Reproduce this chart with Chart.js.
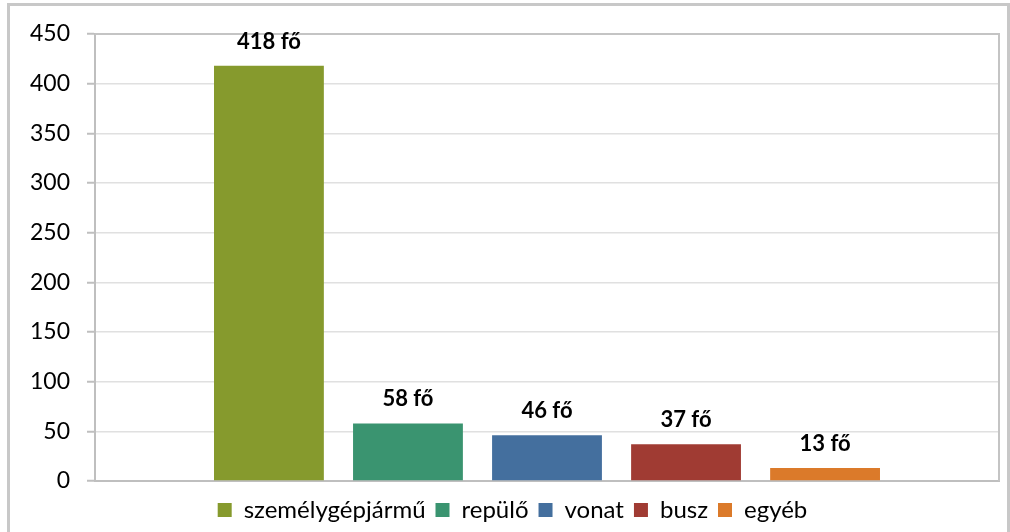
<!DOCTYPE html>
<html>
<head>
<meta charset="utf-8">
<script src="https://cdn.jsdelivr.net/npm/chart.js@4.4.1/dist/chart.umd.min.js"></script>
<style>
  html, body { margin: 0; padding: 0; background: #fff; }
  #wrap { position: relative; width: 1010px; height: 532px; overflow: hidden; }
  #frame { position: absolute; left: 7px; top: 3px; width: 997px; height: 560px;
           border: 3px solid #c8c8c8; pointer-events: none; }
  canvas { position: absolute; left: 0; top: 0; }
</style>
</head>
<body>
<div id="wrap">
  <canvas id="chart" width="1010" height="532"></canvas>
  <div id="frame"></div>
</div>
<script>
const categories = [''];
const seriesNames = ['személygépjármű', 'repülő', 'vonat', 'busz', 'egyéb'];
const seriesValues = [418, 58, 46, 37, 13];
const seriesColors = ['#869A2D', '#3A9470', '#446F9E', '#A03B33', '#DB7A2A'];
const yTicks = [0, 50, 100, 150, 200, 250, 300, 350, 400, 450];

const FONT = 'Lato, "Open Sans", sans-serif';

const valueLabels = {
    id: 'valueLabels',
    afterDatasetsDraw(chart) {
        const ctx = chart.ctx;
        ctx.save();
        ctx.font = 'bold 22px ' + FONT;
        ctx.fillStyle = '#000';
        ctx.textAlign = 'center';
        ctx.textBaseline = 'alphabetic';
        chart.data.datasets.forEach((ds, i) => {
            const bar = chart.getDatasetMeta(i).data[0];
            ctx.fillText(ds.data[0] + ' fő', bar.x, bar.y - 17);
        });
        ctx.restore();
    }
};

const plotBorder = {
    id: 'plotBorder',
    beforeDatasetsDraw(chart) {
        const a = chart.chartArea;
        const ctx = chart.ctx;
        ctx.save();
        ctx.strokeStyle = '#c4c4c4';
        ctx.lineWidth = 2;
        ctx.beginPath();
        ctx.moveTo(a.left, a.top);
        ctx.lineTo(a.right, a.top);
        ctx.lineTo(a.right, a.bottom);
        ctx.stroke();
        ctx.restore();
    }
};

new Chart(document.getElementById('chart'), {
    type: 'bar',
    data: {
        labels: categories,
        datasets: seriesNames.map((name, i) => ({
            label: name,
            data: [seriesValues[i]],
            backgroundColor: seriesColors[i],
            borderWidth: 0,
            categoryPercentage: 0.769,
            barPercentage: 0.79
        }))
    },
    options: {
        responsive: false,
        animation: false,
        layout: { padding: { left: 26, right: 11, top: 34, bottom: 0 } },
        scales: {
            x: {
                ticks: { display: false },
                grid: { display: false, drawTicks: false },
                border: { display: true, color: '#bfbfbf', width: 2 },
                afterFit: (s) => { s.height = 7; }
            },
            y: {
                min: 0,
                max: 450,
                afterBuildTicks: (s) => { s.ticks = yTicks.map(v => ({ value: v })); },
                afterFit: (s) => { s.width = 69; },
                ticks: { color: '#000', font: { family: FONT, size: 23 }, padding: 17 },
                grid: { color: '#e0e0e0', lineWidth: 1.5, tickColor: '#bfbfbf', tickLength: 8, tickWidth: 2 },
                border: { display: true, color: '#bfbfbf', width: 2 }
            }
        },
        plugins: {
            legend: {
                position: 'bottom',
                labels: {
                    color: '#000',
                    font: { family: FONT, size: 24 },
                    boxWidth: 14,
                    boxHeight: 14,
                    padding: 10
                }
            },
            tooltip: { enabled: false }
        }
    },
    plugins: [plotBorder, valueLabels]
});
</script>
</body>
</html>
